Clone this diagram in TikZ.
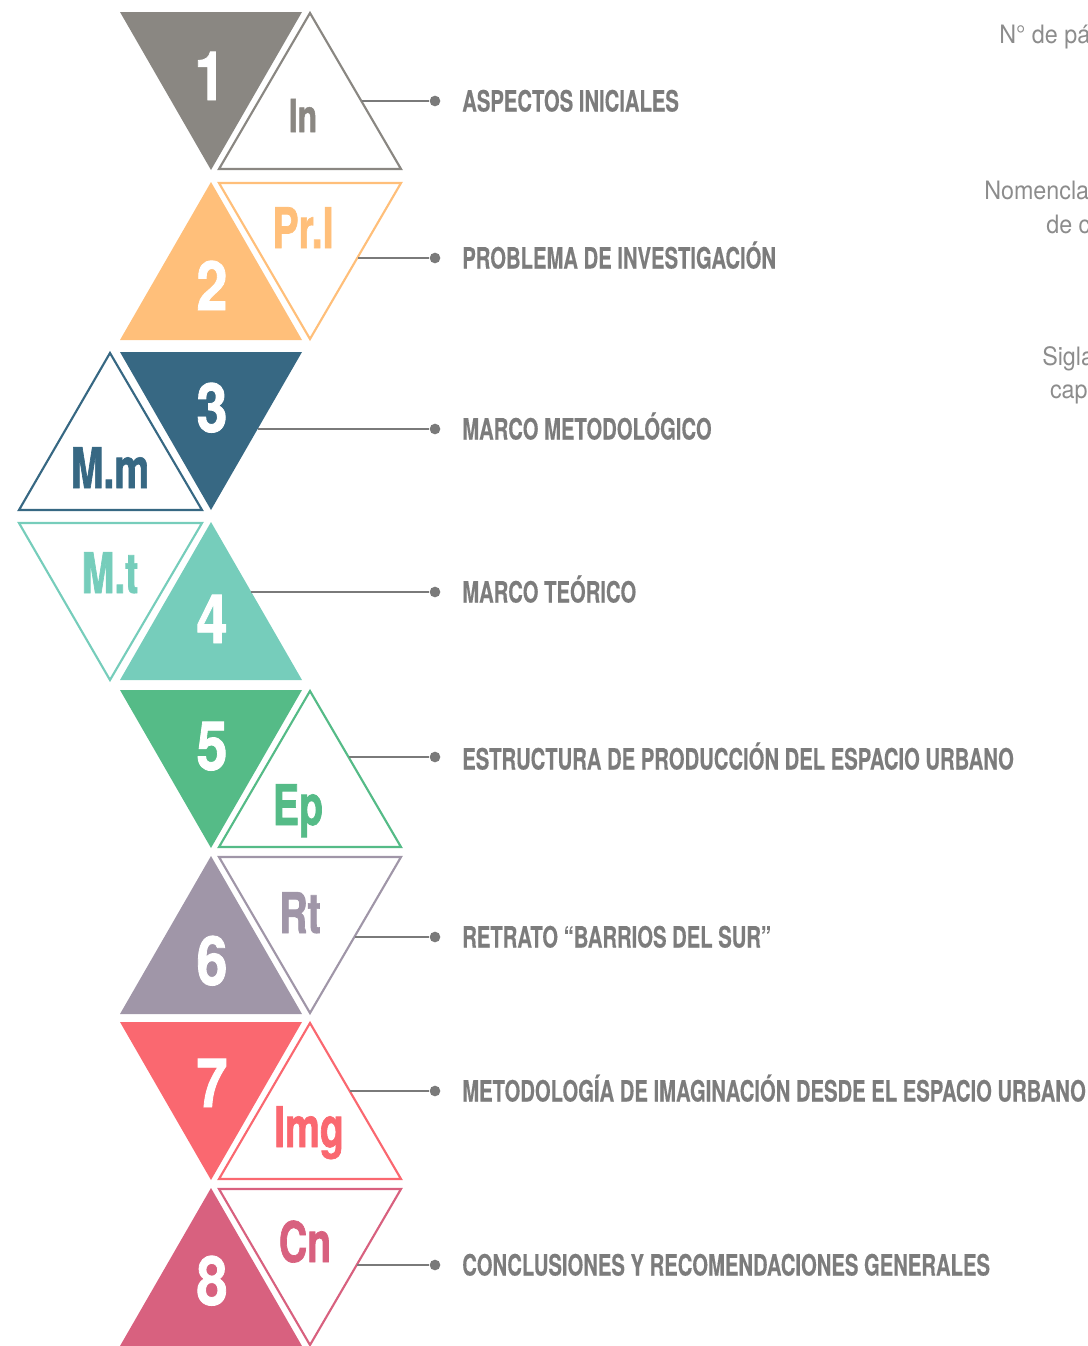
\documentclass[tikz,border=0pt]{standalone}
\usepackage{fontspec}
\setmainfont{TeX Gyre Heros}
\newfontfamily\numfont[FakeStretch=0.82, FakeBold=1.2]{TeX Gyre Heros}
\newfontfamily\abbrfont[FakeStretch=0.70, FakeBold=1.2]{TeX Gyre Heros}
\newfontfamily\labelfont[FakeStretch=0.69, FakeBold=0.3]{TeX Gyre Heros}
\newfontfamily\notefont[FakeStretch=0.92]{TeX Gyre Heros}

\definecolor{grey1}{HTML}{8A8782}
\definecolor{orange2}{HTML}{FFBF7A}
\definecolor{blue3}{HTML}{376883}
\definecolor{mint4}{HTML}{76CDBB}
\definecolor{green5}{HTML}{55BB87}
\definecolor{mauve6}{HTML}{A096A8}
\definecolor{red7}{HTML}{FA6870}
\definecolor{pink8}{HTML}{D8617F}
\definecolor{textgray}{HTML}{7C7C7C}
\definecolor{linegray}{HTML}{7A7A7A}
\definecolor{notegray}{HTML}{8C8C8C}

\begin{document}
\begin{tikzpicture}[x=0.75pt, y=-0.75pt,
    outline/.style={line width=1.6pt, line join=miter},
    number/.style={anchor=base, inner sep=0, text=white, font=\numfont\bfseries\fontsize{51}{51}\selectfont},
    abbr/.style={anchor=base, inner sep=0, font=\abbrfont\bfseries\fontsize{42}{42}\selectfont},
    chapter/.style={anchor=base west, inner sep=0, text=textgray, font=\labelfont\bfseries\fontsize{22}{22}\selectfont},
    note/.style={inner sep=0, text=notegray, font=\notefont\fontsize{19}{25}\selectfont},
    dot/.style={circle, fill=linegray, inner sep=0, minimum size=8pt},
    link/.style={draw=linegray, line width=1.4pt}]
        % \draw[draw=black!20, step=100] (0, 0) grid (1088, 1346);
        \useasboundingbox (0, 0) rectangle (1088, 1346);

        \node[note, anchor=base west] (note-pages) at (999, 43) {N° de página};
        \node[note, anchor=north west, align=right] (note-colour) at (984, 181) {Nomenclatura\\de color};
        \node[note, anchor=north west, align=right] (note-acronym) at (1042, 346) {Sigla del\\capítulo};

        \fill[grey1] (120, 12) -- (302, 12) -- (211, 170) -- cycle;
        \draw[grey1, outline] (310, 13) -- (401, 169) -- (219, 169) -- cycle;
        \node[number] (num-1) at (210, 100) {1};
        \node[abbr, text=grey1, font=\abbrfont\bfseries\fontsize{34}{34}\selectfont] (abbr-1) at (303, 132) {In};
        \coordinate (edge-1) at (362, 101);
        \node[dot] (dot-1) at (435, 101) {};
        \node[chapter] (label-1) at (462, 111.5) {ASPECTOS INICIALES};
        \draw[link] (edge-1) -- (dot-1);

        \fill[orange2] (211, 182) -- (302, 340) -- (120, 340) -- cycle;
        \draw[orange2, outline] (219, 183) -- (401, 183) -- (310, 339) -- cycle;
        \node[number] (num-2) at (212, 310) {2};
        \node[abbr, text=orange2] (abbr-2) at (303, 248) {Pr.I};
        \coordinate (edge-2) at (358, 258);
        \node[dot] (dot-2) at (435, 258) {};
        \node[chapter] (label-2) at (462, 268.5) {PROBLEMA DE INVESTIGACIÓN};
        \draw[link] (edge-2) -- (dot-2);

        \fill[blue3] (120, 352) -- (302, 352) -- (211, 510) -- cycle;
        \draw[blue3, outline] (110, 353) -- (202, 510) -- (19, 510) -- cycle;
        \node[number] (num-3) at (212, 432) {3};
        \node[abbr, text=blue3] (abbr-3) at (110, 488) {M.m};
        \coordinate (edge-3) at (258, 429);
        \node[dot] (dot-3) at (435, 429) {};
        \node[chapter] (label-3) at (462, 439.5) {MARCO METODOLÓGICO};
        \draw[link] (edge-3) -- (dot-3);

        \fill[mint4] (211, 522) -- (302, 680) -- (120, 680) -- cycle;
        \draw[mint4, outline] (19, 523) -- (202, 523) -- (110, 680) -- cycle;
        \node[number] (num-4) at (212, 643) {4};
        \node[abbr, text=mint4] (abbr-4) at (110, 593) {M.t};
        \coordinate (edge-4) at (251, 592);
        \node[dot] (dot-4) at (435, 592) {};
        \node[chapter] (label-4) at (462, 602.5) {MARCO TEÓRICO};
        \draw[link] (edge-4) -- (dot-4);

        \fill[green5] (120, 690) -- (302, 690) -- (211, 848) -- cycle;
        \draw[green5, outline] (310, 691) -- (401, 847) -- (219, 847) -- cycle;
        \node[number] (num-5) at (212, 770) {5};
        \node[abbr, text=green5] (abbr-5) at (298, 825) {Ep};
        \coordinate (edge-5) at (349, 757);
        \node[dot] (dot-5) at (435, 757) {};
        \node[chapter] (label-5) at (462, 769.5) {ESTRUCTURA DE PRODUCCIÓN DEL ESPACIO URBANO};
        \draw[link] (edge-5) -- (dot-5);

        \fill[mauve6] (211, 856) -- (302, 1014) -- (120, 1014) -- cycle;
        \draw[mauve6, outline] (219, 857) -- (401, 857) -- (310, 1013) -- cycle;
        \node[number] (num-6) at (212, 985) {6};
        \node[abbr, text=mauve6] (abbr-6) at (300, 933) {Rt};
        \coordinate (edge-6) at (355, 937);
        \node[dot] (dot-6) at (435, 937) {};
        \node[chapter] (label-6) at (462, 947.5) {RETRATO “BARRIOS DEL SUR”};
        \draw[link] (edge-6) -- (dot-6);

        \fill[red7] (120, 1022) -- (302, 1022) -- (211, 1180) -- cycle;
        \draw[red7, outline] (310, 1023) -- (401, 1179) -- (219, 1179) -- cycle;
        \node[number] (num-7) at (212, 1107) {7};
        \node[abbr, text=red7] (abbr-7) at (309, 1147) {Img};
        \coordinate (edge-7) at (350, 1091);
        \node[dot] (dot-7) at (435, 1091) {};
        \node[chapter] (label-7) at (462, 1101.5) {METODOLOGÍA DE IMAGINACIÓN DESDE EL ESPACIO URBANO};
        \draw[link] (edge-7) -- (dot-7);

        \fill[pink8] (211, 1188) -- (302, 1346) -- (120, 1346) -- cycle;
        \draw[pink8, outline] (219, 1189) -- (401, 1189) -- (310, 1345) -- cycle;
        \node[number] (num-8) at (212, 1305) {8};
        \node[abbr, text=pink8] (abbr-8) at (305, 1262) {Cn};
        \coordinate (edge-8) at (357, 1265);
        \node[dot] (dot-8) at (435, 1265) {};
        \node[chapter] (label-8) at (462, 1275.5) {CONCLUSIONES Y RECOMENDACIONES GENERALES};
        \draw[link] (edge-8) -- (dot-8);

    \end{tikzpicture}
\end{document}
